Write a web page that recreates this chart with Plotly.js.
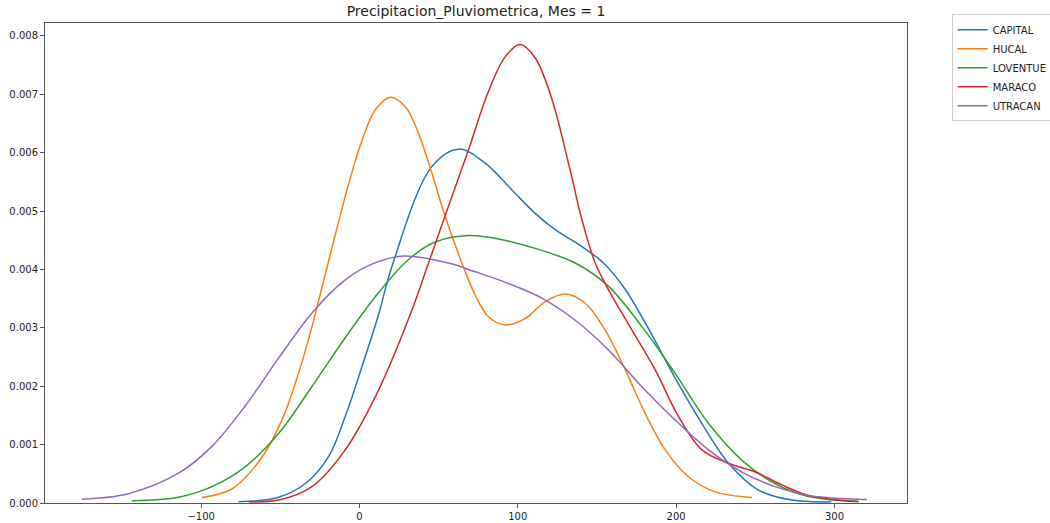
<!DOCTYPE html>
<html>
<head>
<meta charset="utf-8">
<script src="https://cdn.plot.ly/plotly-3.0.1.min.js"></script>
<style>html,body{margin:0;padding:0;background:#fff;}#chart{width:1050px;height:523px;}</style>
</head>
<body>
<div id="chart"></div>
<script>
const seriesNames = ["CAPITAL", "HUCAL", "LOVENTUE", "MARACO", "UTRACAN"];
const seriesColors = ["#1f77b4", "#ff7f0e", "#2ca02c", "#d62728", "#9467bd"];

const capitalX = [-76.4, -51, -34.3, -19.6, -9, 1.5, 12, 20.5, 45.7, 62.6, 79.4, 96.3, 111, 123.6, 140.5, 154.1, 167.8, 182.6, 199.4, 216.3, 233.1, 252, 273, 298];
const capitalY = [0.00002, 0.0001, 0.00033, 0.00079, 0.00148, 0.00233, 0.00322, 0.00405, 0.00576, 0.00606, 0.00582, 0.00536, 0.00496, 0.00468, 0.00439, 0.00411, 0.00366, 0.00298, 0.00214, 0.00136, 0.00068, 0.00022, 0.00005, 0.00002];

const hucalX = [-99.6, -80.6, -61.7, -49, -38.5, -30, -23.8, -15.4, -6.9, 1.5, 9.9, 19.4, 28.9, 37.3, 45.7, 54.1, 64.7, 73.1, 81.5, 92, 104.7, 117.3, 130, 142.6, 155.2, 167.9, 180.5, 193.1, 207.8, 224.7, 247.9];
const hucalY = [0.000094, 0.00024, 0.00078, 0.00142, 0.00222, 0.00302, 0.00368, 0.00458, 0.00546, 0.0062, 0.00673, 0.00695, 0.00679, 0.00633, 0.00565, 0.00491, 0.00411, 0.00356, 0.00319, 0.00305, 0.00316, 0.00345, 0.00358, 0.00342, 0.00296, 0.00228, 0.00153, 0.00091, 0.00045, 0.00019, 0.000094];

const loventueX = [-143.8, -114.3, -93.2, -72.2, -51.1, -30.1, -9, 12, 31, 47.8, 68.9, 90, 111, 136.3, 157.3, 178.4, 199.4, 220.5, 241.6, 262.6, 283.7, 315];
const loventueY = [0.00004, 0.0001, 0.00028, 0.00062, 0.00119, 0.00199, 0.00283, 0.0036, 0.00417, 0.00447, 0.00458, 0.00451, 0.00436, 0.00411, 0.00371, 0.00302, 0.00222, 0.00136, 0.00073, 0.00033, 0.00011, 0.00003];

const maracoX = [-70, -51, -30, -9, 12, 33.1, 43.6, 56.2, 68.9, 81.5, 92, 101.5, 111, 121.5, 132, 140.5, 148.9, 157.3, 172.1, 186.8, 201.5, 216.3, 233.1, 250, 266.8, 283.6, 315.2];
const maracoY = [0.00002, 0.00005, 0.00028, 0.00091, 0.00193, 0.0033, 0.00411, 0.00508, 0.00605, 0.00705, 0.00764, 0.00785, 0.00762, 0.00692, 0.00582, 0.00485, 0.00411, 0.00365, 0.00296, 0.00228, 0.00148, 0.00091, 0.00068, 0.00053, 0.00031, 0.00013, 0.00002];

const utracanX = [-175.4, -146, -114.3, -93.2, -72.2, -51.1, -30.1, -9, 7.8, 27.8, 56.2, 73.1, 94.1, 115.2, 136.3, 157.3, 178.4, 199.4, 220.5, 241.6, 262.6, 283.6, 320.5];
const utracanY = [0.000066, 0.00016, 0.00051, 0.00097, 0.00166, 0.00248, 0.00325, 0.00382, 0.00409, 0.00423, 0.00411, 0.00396, 0.00376, 0.00351, 0.00313, 0.00262, 0.00199, 0.00142, 0.00091, 0.00053, 0.00028, 0.00013, 0.00006];

const xTickVals = [-100, 0, 100, 200, 300];
const yTickVals = [0, 0.001, 0.002, 0.003, 0.004, 0.005, 0.006, 0.007, 0.008];

const xs = [capitalX, hucalX, loventueX, maracoX, utracanX];
const ys = [capitalY, hucalY, loventueY, maracoY, utracanY];

const traces = seriesNames.map((n, i) => ({
  type: "scatter", mode: "lines", name: n,
  x: xs[i], y: ys[i],
  line: {color: seriesColors[i], width: 1.5, shape: "spline", smoothing: 1}
}));

const axisCommon = {
  showline: true, linecolor: "#555", linewidth: 1, mirror: true,
  showgrid: false, zeroline: false,
  ticks: "outside", ticklen: 4, tickwidth: 1, tickcolor: "#555",
  tickfont: {family: "DejaVu Sans", size: 10, color: "#222"}
};

const layout = {
  width: 1050, height: 523,
  margin: {l: 45, r: 143, t: 23, b: 20, autoexpand: false},
  paper_bgcolor: "#fff", plot_bgcolor: "#fff",
  title: {text: "Precipitacion_Pluviometrica, Mes = 1", font: {family: "DejaVu Sans", size: 14, color: "#222"}, x: 0.5, xref: "paper", y: 0.978, yanchor: "middle"},
  xaxis: Object.assign({}, axisCommon, {range: [-198.6, 345.8], tickvals: xTickVals}),
  yaxis: Object.assign({}, axisCommon, {range: [0, 0.00822], tickvals: yTickVals, tickformat: ".3f"}),
  showlegend: true,
  legend: {x: 1.169, y: 1.018, xanchor: "right", yanchor: "top", bgcolor: "#fff", bordercolor: "#ccc", borderwidth: 1,
    font: {family: "DejaVu Sans", size: 10, color: "#222"}, tracegroupgap: 0}
};

Plotly.newPlot("chart", traces, layout, {displayModeBar: false, staticPlot: true});
</script>
</body>
</html>
